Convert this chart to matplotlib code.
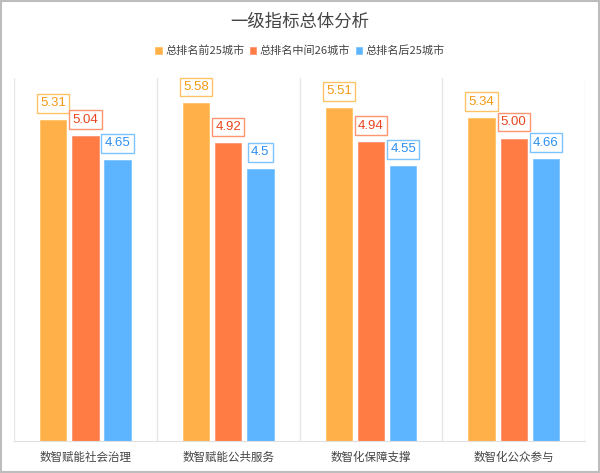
import numpy as np
import matplotlib.pyplot as plt

plt.rcParams['font.family'] = ['Noto Sans CJK SC', 'DejaVu Sans']

categories = ['数智赋能社会治理', '数智赋能公共服务', '数智化保障支撑', '数智化公众参与']
series_names = ['总排名前25城市', '总排名中间26城市', '总排名后25城市']
top25 = [5.31, 5.58, 5.51, 5.34]
mid26 = [5.04, 4.92, 4.94, 5.00]
last25 = [4.65, 4.5, 4.55, 4.66]
label_text = [['5.31', '5.58', '5.51', '5.34'],
              ['5.04', '4.92', '4.94', '5.00'],
              ['4.65', '4.5', '4.55', '4.66']]

bar_colors = ['#FFB049', '#FF7C45', '#5DB4FF']
edge_colors = ['#FFC266', '#FF9470', '#7CC3FF']
text_colors = ['#F39A12', '#E8451E', '#2B8FF0']

fig = plt.figure(figsize=(6, 4.73), dpi=100)
ax = fig.add_axes([0.0233, 0.068, 0.952, 0.767])

x = np.arange(len(categories))
width = 0.185
gap = 0.04
for i, vals in enumerate([top25, mid26, last25]):
    pos = x + (i - 1) * (width + gap)
    ax.bar(pos, vals, width, color=bar_colors[i], edgecolor=edge_colors[i],
           linewidth=0.6, label=series_names[i], zorder=2)
    for p, v, t in zip(pos, vals, label_text[i]):
        ax.annotate(t, (p, v), xytext=(0, 7.5), textcoords='offset points',
                    ha='center', va='bottom', fontsize=9.5, color=text_colors[i],
                    family=['Liberation Sans', 'DejaVu Sans'],
                    bbox=dict(boxstyle='square,pad=0.25', fc='white',
                              ec=edge_colors[i], lw=1.0))

ax.set_xlim(-0.5, len(categories) - 0.5)
ax.set_ylim(0, 6)
for b in np.arange(len(categories) + 1) - 0.5:
    ax.axvline(b, color='#E6E6E6', lw=1, zorder=1)
ax.set_yticks([])
ax.set_xticks(x)
ax.set_xticklabels(categories, fontsize=8.3, color='#444444')
ax.tick_params(axis='x', length=0, pad=7)
for s in ['top', 'left', 'right']:
    ax.spines[s].set_visible(False)
ax.spines['bottom'].set_color('#E0E0E0')

fig.text(0.5, 0.953, '一级指标总体分析', ha='center', va='center',
         fontsize=12.5, color='#444444')
fig.legend(loc='center', bbox_to_anchor=(0.5, 0.893), ncol=3, frameon=False,
           fontsize=8, handlelength=0.6, handleheight=0.6, handletextpad=0.3,
           columnspacing=0.5, labelcolor='#444444')

fig.patches.append(plt.Rectangle((0.002, 0.002), 0.996, 0.996, transform=fig.transFigure,
                                 fill=False, ec='#BDBDBD', lw=1.5))

fig.savefig('out.png', dpi=100)
